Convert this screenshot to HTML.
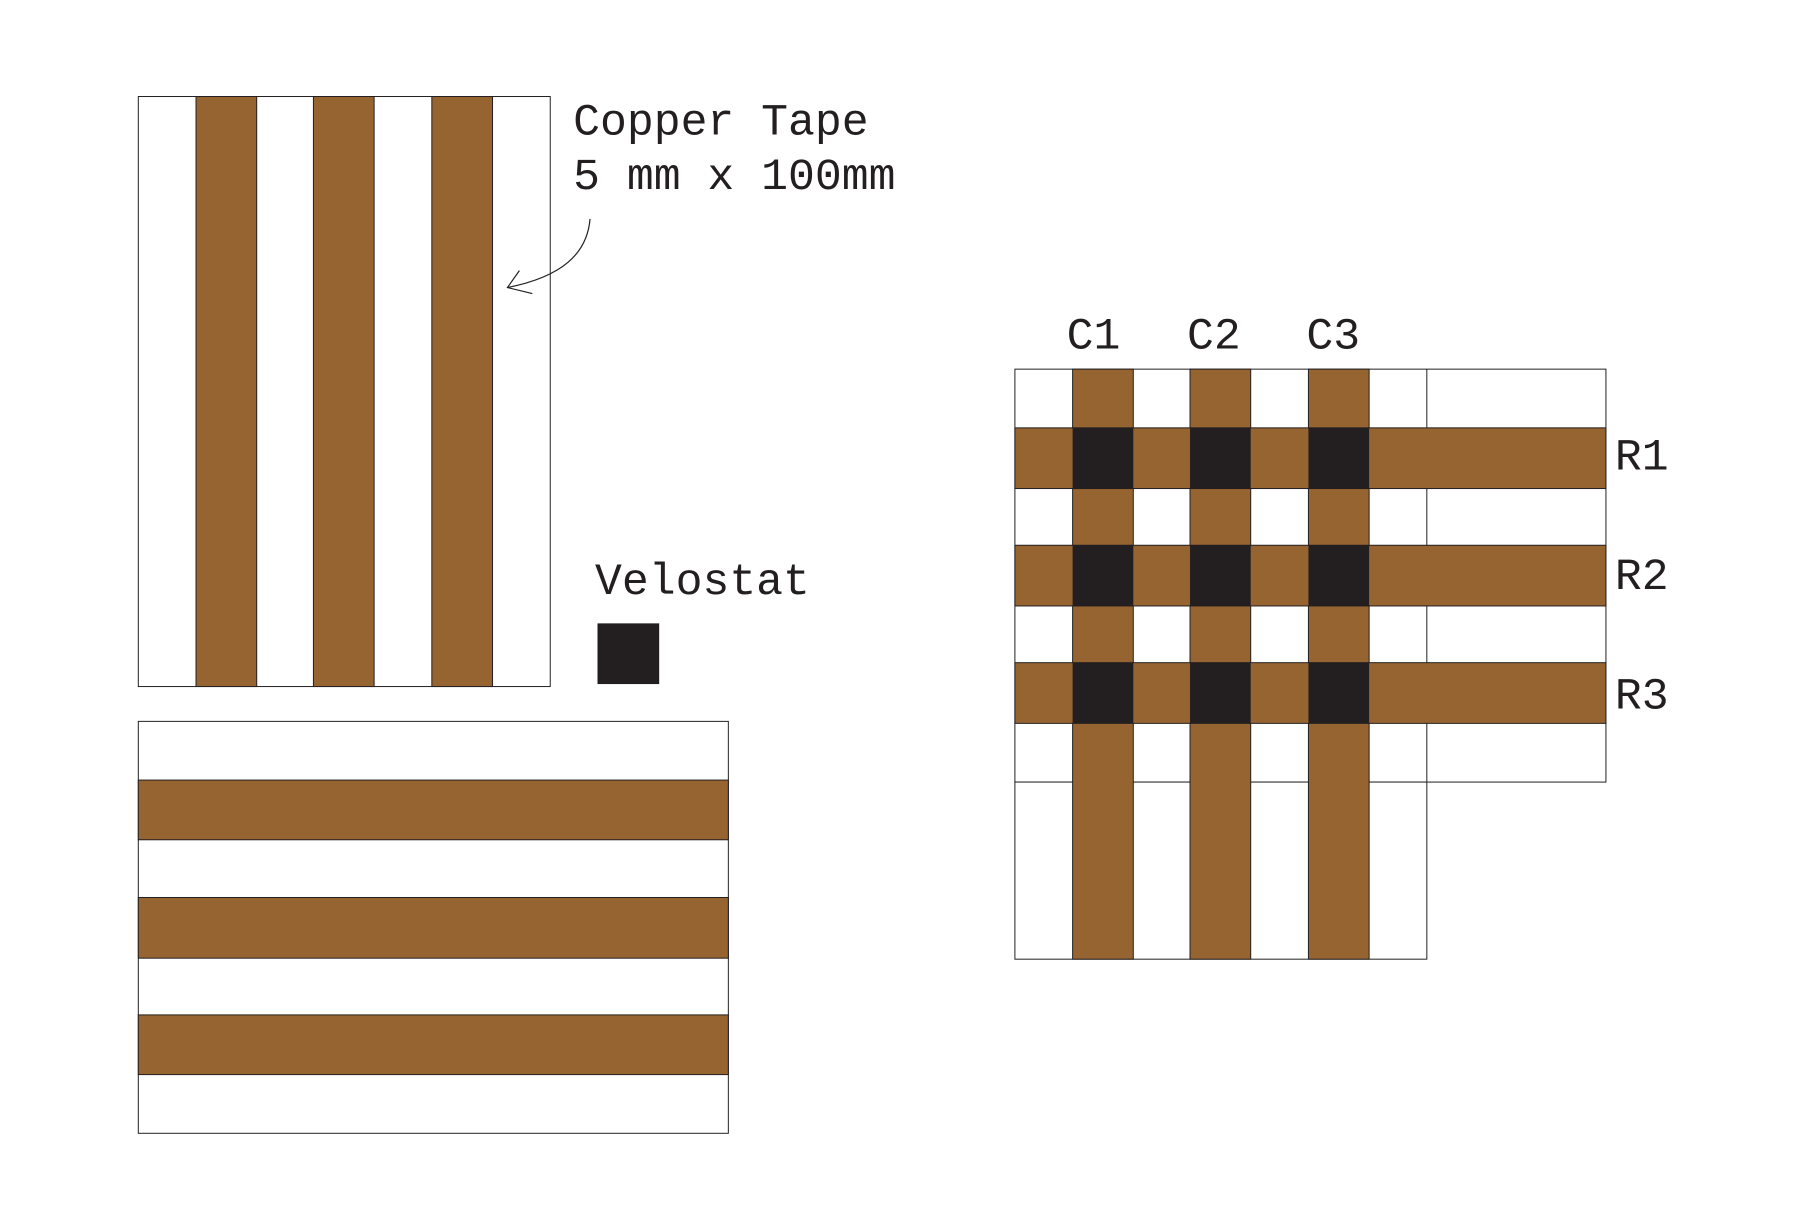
<!DOCTYPE html>
<html><head><meta charset="utf-8"><style>
html,body{margin:0;padding:0;background:#fff;}
svg{display:block}
text{font-family:"Liberation Mono",monospace;font-size:45px;fill:#231f20;}
</style></head><body>
<svg width="1820" height="1231" viewBox="0 0 1820 1231" xmlns="http://www.w3.org/2000/svg">
<g transform="scale(0.995)">
<g stroke="#231f20" stroke-width="1">
<rect x="139" y="97" width="414" height="593" fill="#fff"/>
<rect x="197" y="97" width="61" height="593" fill="#966430"/>
<rect x="315" y="97" width="61" height="593" fill="#966430"/>
<rect x="434" y="97" width="61" height="593" fill="#966430"/>
<rect x="139" y="725" width="593" height="414" fill="#fff"/>
<rect x="139" y="784" width="593" height="60" fill="#966430"/>
<rect x="139" y="902" width="593" height="61" fill="#966430"/>
<rect x="139" y="1020" width="593" height="60" fill="#966430"/>
<rect x="601" y="627" width="61" height="60" fill="#231f20"/>
<rect x="1020" y="371" width="594" height="415" fill="#fff"/>
<rect x="1020" y="786" width="414" height="178" fill="#fff"/>
<line x1="1434" y1="371" x2="1434" y2="786"/>
<rect x="1078" y="371" width="61" height="593" fill="#966430"/>
<rect x="1196" y="371" width="61" height="593" fill="#966430"/>
<rect x="1315" y="371" width="61" height="593" fill="#966430"/>
<rect x="1020" y="430" width="594" height="61" fill="#966430"/>
<rect x="1020" y="548" width="594" height="61" fill="#966430"/>
<rect x="1020" y="666" width="594" height="61" fill="#966430"/>
</g>
<g fill="#231f20">
<rect x="1078" y="430" width="61" height="61"/><rect x="1196" y="430" width="61" height="61"/><rect x="1315" y="430" width="61" height="61"/>
<rect x="1078" y="548" width="61" height="61"/><rect x="1196" y="548" width="61" height="61"/><rect x="1315" y="548" width="61" height="61"/>
<rect x="1078" y="666" width="61" height="61"/><rect x="1196" y="666" width="61" height="61"/><rect x="1315" y="666" width="61" height="61"/>
</g>
<path d="M593 220 C590 255 565 278 510 289" fill="none" stroke="#231f20" stroke-width="1.2"/>
<path d="M522 272 L510 289 L535 295" fill="none" stroke="#231f20" stroke-width="1.2"/>
<text x="576" y="135">Copper Tape</text>
<text x="576" y="190">5 mm x 100mm</text>
<text x="598" y="597">Velostat</text>
<text x="1072" y="350">C1</text>
<text x="1193" y="350">C2</text>
<text x="1313" y="350">C3</text>
<text x="1623" y="472">R1</text>
<text x="1623" y="592">R2</text>
<text x="1623" y="712">R3</text>
</g>
</svg>
</body></html>
